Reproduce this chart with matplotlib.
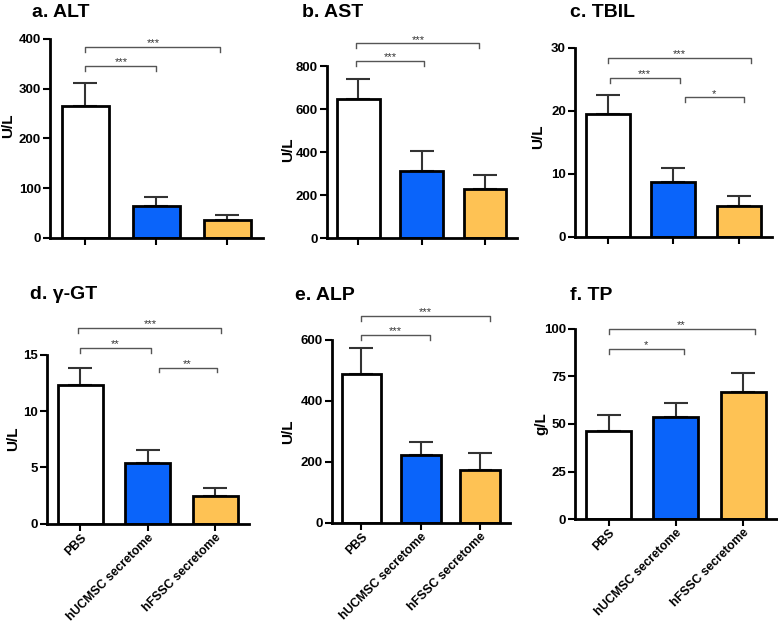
import matplotlib
matplotlib.use("Agg")
import matplotlib.pyplot as plt

plt.rcParams['font.family'] = ['Liberation Sans', 'DejaVu Sans']
plt.rcParams['font.weight'] = 'bold'

groups = ["PBS", "hUCMSC secretome", "hFSSC secretome"]
colors = ["#ffffff", "#0a64fa", "#fec254"]

titles = ["a. ALT", "b. AST", "c. TBIL", "d. γ-GT", "e. ALP", "f. TP"]
units = ["U/L", "U/L", "U/L", "U/L", "U/L", "g/L"]

alt_mean = [264, 64, 37]
alt_err = [48, 19, 9]
ast_mean = [648, 313, 231]
ast_err = [91, 91, 65]
tbil_mean = [19.4, 8.7, 4.9]
tbil_err = [3.1, 2.25, 1.5]
ggt_mean = [12.3, 5.35, 2.5]
ggt_err = [1.55, 1.2, 0.7]
alp_mean = [488, 223, 172]
alp_err = [86, 41, 56]
tp_mean = [46.2, 53.7, 66.8]
tp_err = [8.3, 7.3, 10.1]

means = [alt_mean, ast_mean, tbil_mean, ggt_mean, alp_mean, tp_mean]
errs = [alt_err, ast_err, tbil_err, ggt_err, alp_err, tp_err]
ymaxs = [400, 800, 30, 15, 600, 100]
ysteps = [100, 200, 10, 5, 200, 25]

# significance brackets: (group i, group j, height, label)
sig = [
    [(0, 1, 345, "***"), (0, 2, 383, "***")],
    [(0, 1, 824, "***"), (0, 2, 907, "***")],
    [(0, 1, 25.2, "***"), (1, 2, 22.1, "*"), (0, 2, 28.4, "***")],
    [(0, 1, 15.58, "**"), (1, 2, 13.85, "**"), (0, 2, 17.35, "***")],
    [(0, 1, 616, "***"), (0, 2, 679, "***")],
    [(0, 1, 89.5, "*"), (0, 2, 100, "**")],
]
# fine horizontal offsets of bracket ends (in category units)
sig_off = [
    [(0, 0), (0, -0.1)],
    [(-0.03, 0.03), (-0.03, -0.09)],
    [(0.03, 0.1), (0.18, 0.07), (0.0, 0.18)],
    [(-0.01, 0.05), (0.16, 0.02), (-0.03, 0.09)],
    [(0.0, 0.15), (-0.01, 0.16)],
    [(0.0, 0.12), (0.0, 0.17)],
]

W, H = 778, 624
# axes boxes in pixels: left, right, top, bottom
boxes = [
    (50, 263, 38.7, 238),
    (326.7, 516.7, 66.3, 238.3),
    (575, 771.7, 47.7, 236.7),
    (46.7, 249, 354.7, 523.7),
    (331.7, 510, 340, 522.7),
    (575, 776.7, 328.7, 519.3),
]
title_pos = [(32, 17.3), (301.7, 17.3), (570, 16.7), (30, 299.3), (295, 300), (570, 300)]
ylab_pos = [(8.3, 126), (288, 150), (538.5, 136.7), (13, 438.3), (288, 431.7), (541, 423.3)]

fig = plt.figure(figsize=(W / 100, H / 100), dpi=100)

for k in range(6):
    l, r, t, b = boxes[k]
    ax = fig.add_axes([l / W, 1 - b / H, (r - l) / W, (b - t) / H])
    x = list(range(3))
    ax.errorbar(x, means[k], yerr=[[0, 0, 0], errs[k]], fmt='none',
                ecolor='#333333', elinewidth=1.5, capsize=8.5, capthick=1.5, zorder=1)
    ax.bar(x, means[k], width=0.67, color=colors, edgecolor='black', linewidth=2, zorder=2)
    ax.set_xlim(-0.5, 2.5)
    ax.set_ylim(0, ymaxs[k])
    step = ysteps[k]
    ax.set_yticks([i * step for i in range(int(ymaxs[k] / step) + 1)])
    ax.set_xticks(x)
    for s in ['top', 'right']:
        ax.spines[s].set_visible(False)
    for s in ['left', 'bottom']:
        ax.spines[s].set_linewidth(2)
    ax.tick_params(axis='y', direction='out', length=5, width=1.5, labelsize=9.5, pad=1.5)
    ax.tick_params(axis='x', direction='out', length=5, width=1.5, labelsize=9.5, pad=0.5)
    for lab in ax.get_yticklabels():
        lab.set_fontweight('bold')
    if k < 3:
        ax.set_xticklabels([])
    else:
        ax.set_xticklabels(groups, rotation=45, ha='right', va='top', rotation_mode='anchor',
                           fontsize=8.8, fontweight='bold')
    drop = 0.026 * ymaxs[k]
    for (i, j, yy, lab), (oi, oj) in zip(sig[k], sig_off[k]):
        x1, x2 = i + oi, j + oj
        ax.plot([x1, x1, x2, x2], [yy - drop, yy, yy, yy - drop], color='#555555',
                lw=1, clip_on=False, zorder=3)
        ax.annotate(lab, ((x1 + x2) / 2, yy), xytext=(0, 0.5), textcoords='offset points',
                    ha='center', va='baseline', fontsize=8, fontweight='normal',
                    color='#333333', annotation_clip=False)
    tx, ty = title_pos[k]
    fig.text(tx / W, 1 - ty / H, titles[k], ha='left', va='baseline', fontsize=14,
             fontweight='bold')
    lx, ly = ylab_pos[k]
    fig.text(lx / W, 1 - ly / H, units[k], ha='center', va='center', rotation=90,
             fontsize=11, fontweight='bold')

fig.savefig("out.png", dpi=100)
